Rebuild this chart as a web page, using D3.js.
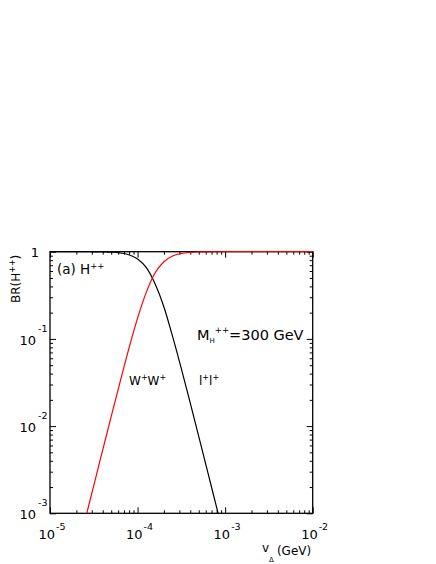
<!DOCTYPE html>
<html>
<head>
<meta charset="utf-8">
<script src="https://cdn.jsdelivr.net/npm/d3@7"></script>
<style>
  body { margin: 0; background: #fff; }
  svg { display: block; font-family: "DejaVu Sans", sans-serif; }
  .tick line { stroke: #000; stroke-width: 1; }
</style>
</head>
<body>
<svg id="chart" width="436" height="564"></svg>
<script>
// v_Delta (GeV) sample points, every 0.1 decade
var vDelta = [1.0e-5, 1.26e-5, 1.58e-5, 2.0e-5, 2.51e-5, 3.16e-5, 3.98e-5, 5.01e-5, 6.31e-5, 7.94e-5,
              1.0e-4, 1.26e-4, 1.58e-4, 2.0e-4, 2.51e-4, 3.16e-4, 3.98e-4, 5.01e-4, 6.31e-4, 7.94e-4,
              1.0e-3, 1.26e-3, 1.58e-3, 2.0e-3, 2.51e-3, 3.16e-3, 3.98e-3, 5.01e-3, 6.31e-3, 7.94e-3, 1.0e-2];
// BR(H++ -> l+l+), black curve
var brLL = [1.0, 1.0, 0.9999, 0.9997, 0.9992, 0.9979, 0.9948, 0.987, 0.968, 0.923,
            0.827, 0.656, 0.431, 0.232, 0.107, 0.0457, 0.0187, 0.00753, 0.00301, 0.00120,
            4.79e-4, 1.91e-4, 7.6e-5, 3.0e-5, 1.2e-5, 4.8e-6, 1.9e-6, 7.6e-7, 3.0e-7, 1.2e-7, 4.8e-8];
// BR(H++ -> W+W+), red curve
var brWW = [2.09e-5, 5.25e-5, 1.32e-4, 3.31e-4, 8.31e-4, 2.08e-3, 5.22e-3, 0.0130, 0.0320, 0.0768,
            0.173, 0.344, 0.569, 0.768, 0.893, 0.954, 0.981, 0.9925, 0.997, 0.9988,
            0.9995, 0.9998, 0.9999, 1.0, 1.0, 1.0, 1.0, 1.0, 1.0, 1.0, 1.0];

var xDecades = [1e-5, 1e-4, 1e-3, 1e-2];
var xExps = ['-5', '-4', '-3', '-2'];
var yDecades = [1e-3, 1e-2, 1e-1];
var yExps = ['-3', '-2', '-1'];

var svg = d3.select('#chart');
var plot = {l: 50, r: 312.7, t: 251.7, b: 513.3};

var x = d3.scaleLog().domain([1e-5, 1e-2]).range([plot.l, plot.r]);
var y = d3.scaleLog().domain([1e-3, 1]).range([plot.b, plot.t]);

function minors(decs) {
    var out = [];
    decs.forEach(function (d) {
        for (var k = 2; k < 10; k++) out.push(k * d);
    });
    return out;
}
var xMinor = minors([1e-5, 1e-4, 1e-3]);
var yMinor = minors([1e-3, 1e-2, 1e-1]);

// ticks on all four sides, pointing inward
function ticks(axisFn, scale, vals, size, tx, ty) {
    svg.append('g')
        .attr('transform', 'translate(' + [tx, ty] + ')')
        .call(axisFn(scale).tickValues(vals).tickSize(size).tickFormat(''))
        .call(function (g) { g.select('.domain').remove(); });
}
ticks(d3.axisBottom, x, xDecades, -6, 0, plot.b);
ticks(d3.axisBottom, x, xMinor, -3, 0, plot.b);
ticks(d3.axisTop, x, xDecades, -6, 0, plot.t);
ticks(d3.axisTop, x, xMinor, -3, 0, plot.t);
ticks(d3.axisLeft, y, yDecades.concat([1]), -6, plot.l, 0);
ticks(d3.axisLeft, y, yMinor, -3, plot.l, 0);
ticks(d3.axisRight, y, yDecades.concat([1]), -6, plot.r, 0);
ticks(d3.axisRight, y, yMinor, -3, plot.r, 0);

svg.append('rect')
    .attr('x', plot.l).attr('y', plot.t)
    .attr('width', plot.r - plot.l).attr('height', plot.b - plot.t)
    .style('fill', 'none').style('stroke', '#000').style('stroke-width', 1.3);

// tick labels
xDecades.forEach(function (d, i) {
    svg.append('text')
        .attr('x', x(d) + 5).attr('y', 539)
        .style('text-anchor', 'end').style('font-size', '13px')
        .text('10');
    svg.append('text')
        .attr('x', x(d) + 6).attr('y', 530)
        .style('font-size', '9.5px')
        .text(xExps[i]);
});
yDecades.forEach(function (d, i) {
    svg.append('text')
        .attr('x', 36).attr('y', y(d) + 6)
        .style('text-anchor', 'end').style('font-size', '13px')
        .text('10');
    svg.append('text')
        .attr('x', 38).attr('y', y(d) - 7)
        .style('font-size', '9.5px')
        .text(yExps[i]);
});
svg.append('text')
    .attr('x', 35).attr('y', y(1) + 5)
    .style('text-anchor', 'middle').style('font-size', '13px')
    .text('1');

// axis titles
var yt = svg.append('text')
    .attr('transform', 'translate(20,' + (plot.t + 3) + ') rotate(-90)')
    .style('text-anchor', 'end').style('font-size', '12px');
yt.append('tspan').text('BR(H');
yt.append('tspan').attr('dy', -5).style('font-size', '8px').text('++');
yt.append('tspan').attr('dy', 5).text(')');

var xt = svg.append('text')
    .attr('x', 262).attr('y', 552)
    .style('font-size', '12px');
xt.append('tspan').text('v');
xt.append('tspan').attr('dy', 10).style('font-size', '7px').text('\u0394');
xt.append('tspan').attr('dy', -7).attr('dx', 3).text('(GeV)');

// curves
svg.append('clipPath').attr('id', 'clip')
    .append('rect')
    .attr('x', plot.l).attr('y', plot.t - 2)
    .attr('width', plot.r - plot.l).attr('height', plot.b - plot.t + 2);

var line = function (vals) {
    return d3.line()
        .x(function (d, i) { return x(vDelta[i]); })
        .y(function (d) { return y(d); })
        .curve(d3.curveMonotoneX)(vals);
};

svg.append('path')
    .attr('clip-path', 'url(#clip)')
    .attr('d', line(brLL))
    .style('fill', 'none').style('stroke', '#000').style('stroke-width', 1.2);
svg.append('path')
    .attr('clip-path', 'url(#clip)')
    .attr('d', line(brWW))
    .style('fill', 'none').style('stroke', '#ff0000').style('stroke-width', 1.2);

// annotations
var a = svg.append('text').attr('x', 57).attr('y', 274).style('font-size', '13.5px');
a.append('tspan').text('(a) H');
a.append('tspan').attr('dy', -5).style('font-size', '8.5px').text('++');

var m = svg.append('text').attr('x', 197).attr('y', 340).style('font-size', '14.5px');
m.append('tspan').text('M');
m.append('tspan').attr('dy', 3).style('font-size', '7px').text('H');
m.append('tspan').attr('dy', -10).style('font-size', '8.5px').text('++');
m.append('tspan').attr('dy', 7).text('=300 GeV');

var w = svg.append('text').attr('x', 129).attr('y', 385).style('font-size', '12px');
w.append('tspan').text('W');
w.append('tspan').attr('dy', -5).style('font-size', '8px').text('+');
w.append('tspan').attr('dy', 5).text('W');
w.append('tspan').attr('dy', -5).style('font-size', '8px').text('+');

var l = svg.append('text').attr('x', 199).attr('y', 385).style('font-size', '12px');
l.append('tspan').text('l');
l.append('tspan').attr('dy', -5).style('font-size', '8px').text('+');
l.append('tspan').attr('dy', 5).text('l');
l.append('tspan').attr('dy', -5).style('font-size', '8px').text('+');
</script>
</body>
</html>
